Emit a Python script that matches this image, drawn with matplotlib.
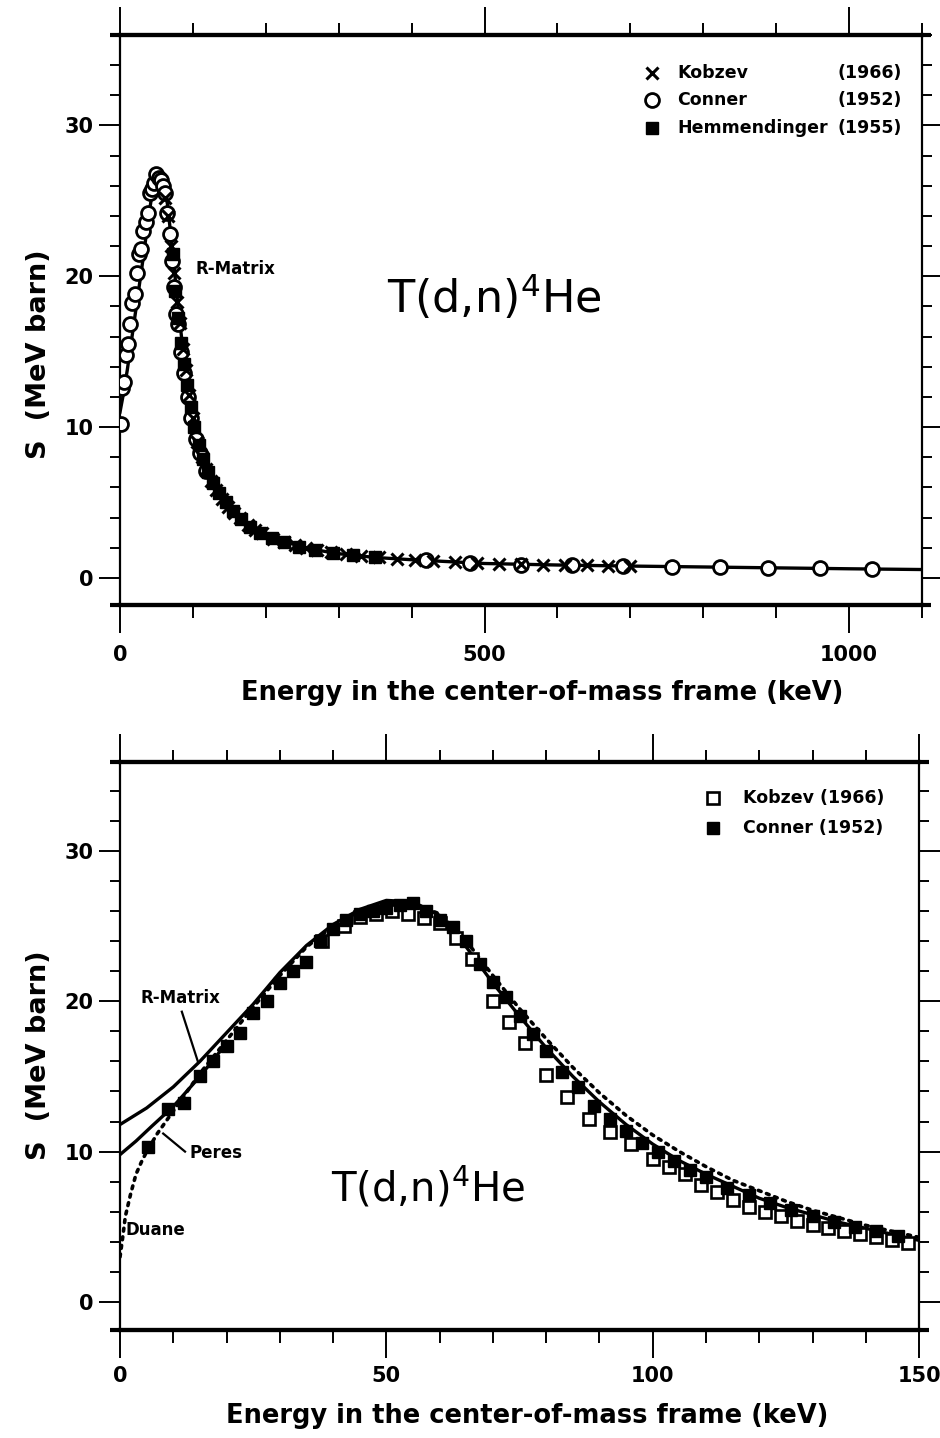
import matplotlib
matplotlib.use("Agg")
import matplotlib.pyplot as plt
from matplotlib.ticker import MultipleLocator

# ---- top panel data (0 - 1100 keV) ----
top_curve_E = [0, 5, 10, 15, 20, 25, 30, 35, 40, 45, 50, 55, 60, 65, 70, 75, 80, 85, 90, 95,
               100, 105, 110, 120, 130, 140, 150, 175, 200, 250, 300, 350, 400, 500, 600,
               700, 800, 900, 1000, 1100]
top_curve_S = [11.0, 12.3, 13.8, 15.5, 17.2, 18.9, 20.6, 22.4, 24.2, 25.8, 26.7, 26.7, 26.0,
               24.8, 22.6, 20.2, 17.8, 15.7, 13.7, 11.9, 10.4, 9.3, 8.4, 7.0, 6.0, 5.3, 4.7,
               3.6, 2.9, 2.0, 1.6, 1.35, 1.2, 0.95, 0.85, 0.78, 0.72, 0.66, 0.6, 0.55]

top_conner_E = [1, 3, 5, 8, 11, 14, 17, 20, 23, 26, 29, 32, 35, 38, 41, 44, 47, 50, 53, 56,
                59, 62, 65, 68, 71, 74, 77, 80, 84, 88, 93, 98, 104, 110, 118,
                420, 480, 550, 620, 690, 757, 823, 889, 960, 1031]
top_conner_S = [10.2, 12.6, 13.0, 14.8, 15.5, 16.8, 18.2, 18.8, 20.2, 21.5, 21.8, 23.0, 23.6,
                24.2, 25.5, 25.8, 26.2, 26.8, 26.5, 26.4, 26.0, 25.5, 24.2, 22.8, 21.0, 19.3,
                17.5, 16.8, 15.0, 13.6, 12.0, 10.6, 9.2, 8.3, 7.1,
                1.15, 1.0, 0.88, 0.82, 0.78, 0.72, 0.7, 0.66, 0.62, 0.6]

top_kobzev_E = [62, 66, 70, 74, 78, 82, 86, 90, 95, 100, 106, 112, 118, 125, 132, 140, 148,
                156, 165, 175, 185, 195, 210, 225, 240, 255, 270, 290, 310, 330, 355, 380,
                405, 430, 460, 490, 520, 550, 580, 610, 640, 670, 700]
top_kobzev_S = [25.2, 24.0, 22.0, 20.2, 18.3, 16.9, 15.2, 13.8, 12.1, 10.6, 9.0, 8.0, 7.2,
                6.4, 5.8, 5.2, 4.7, 4.3, 4.0, 3.5, 3.2, 2.95, 2.6, 2.35, 2.15, 1.95, 1.85,
                1.7, 1.55, 1.45, 1.35, 1.25, 1.18, 1.1, 1.02, 0.98, 0.93, 0.9, 0.87, 0.84,
                0.82, 0.8, 0.78]

top_hemm_E = [72, 76, 80, 84, 88, 92, 97, 102, 108, 114, 121, 128, 136, 145, 155, 166, 178,
              192, 208, 225, 245, 268, 292, 320, 350]
top_hemm_S = [21.5, 19.0, 17.2, 15.6, 14.2, 12.8, 11.3, 10.0, 8.8, 7.9, 7.0, 6.3, 5.6, 5.0,
              4.4, 3.9, 3.4, 3.0, 2.65, 2.35, 2.05, 1.85, 1.65, 1.5, 1.35]

# ---- bottom panel data (0 - 150 keV) ----
bot_rmatrix_E = [0, 5, 10, 15, 20, 25, 30, 35, 40, 45, 50, 55, 60, 65, 70, 75, 80, 85, 90,
                 95, 100, 105, 110, 115, 120, 125, 130, 135, 140, 145, 150]
bot_rmatrix_S = [11.8, 12.9, 14.3, 16.0, 17.9, 19.8, 21.9, 23.7, 25.1, 26.1, 26.7, 26.6,
                 25.7, 23.6, 21.2, 19.0, 16.9, 15.0, 13.3, 11.8, 10.5, 9.4, 8.5, 7.7, 6.9,
                 6.3, 5.8, 5.3, 4.9, 4.5, 4.1]

bot_peres_E = [0, 3, 6, 10, 15, 20]
bot_peres_S = [9.8, 10.7, 11.7, 13.0, 15.0, 17.2]

bot_duane_E = [0, 0.5, 1, 2, 3, 4, 5, 7, 10, 15, 20, 25, 30, 35, 40, 45, 50, 55, 60, 65,
               70, 75, 80, 85, 90, 95, 100, 105, 110, 115, 120, 125, 130, 135, 140, 145, 150]
bot_duane_S = [3.0, 4.3, 5.7, 7.2, 8.5, 9.3, 10.0, 11.2, 12.7, 15.2, 17.4, 19.6, 21.7, 23.6,
               25.0, 26.0, 26.5, 26.5, 25.8, 24.0, 21.7, 19.5, 17.5, 15.6, 13.9, 12.4, 11.1,
               10.0, 9.0, 8.1, 7.4, 6.7, 6.1, 5.6, 5.1, 4.7, 4.3]

bot_conner_E = [5.3, 9, 12, 15, 17.5, 20, 22.5, 25, 27.5, 30, 32.5, 35, 37.5, 40, 42.5, 45,
                47.5, 50, 52.5, 55, 57.5, 60, 62.5, 65, 67.5, 70, 72.5, 75, 77.5, 80, 83, 86,
                89, 92, 95, 98, 101, 104, 107, 110, 114, 118, 122, 126, 130, 134, 138, 142,
                146]
bot_conner_S = [10.3, 12.8, 13.2, 15.0, 16.0, 17.0, 17.9, 19.2, 20.0, 21.2, 22.0, 22.6, 24.0,
                24.8, 25.4, 25.8, 26.0, 26.2, 26.4, 26.5, 26.0, 25.4, 24.9, 24.0, 22.5, 21.3,
                20.3, 19.0, 17.8, 16.7, 15.3, 14.3, 13.0, 12.2, 11.4, 10.6, 10.0, 9.4, 8.8,
                8.3, 7.6, 7.1, 6.6, 6.1, 5.7, 5.3, 5.0, 4.7, 4.4]

bot_kobzev_E = [38, 42, 45, 48, 51, 54, 57, 60, 63, 66, 70, 73, 76, 80, 84, 88, 92, 96, 100,
                103, 106, 109, 112, 115, 118, 121, 124, 127, 130, 133, 136, 139, 142, 145, 148]
bot_kobzev_S = [24.0, 25.0, 25.6, 25.8, 26.0, 25.8, 25.5, 25.2, 24.2, 22.8, 20.0, 18.6, 17.2,
                15.1, 13.6, 12.2, 11.3, 10.5, 9.5, 9.0, 8.5, 7.8, 7.3, 6.8, 6.3, 6.0, 5.7,
                5.4, 5.1, 4.9, 4.7, 4.5, 4.3, 4.1, 3.9]

top_xticks = [0, 500, 1000]
bot_xticks = [0, 50, 100, 150]
yticks = [0, 10, 20, 30]
xlabel = "Energy in the center-of-mass frame (keV)"
ylabel = "S  (MeV barn)"
reaction = r"T(d,n)$^4$He"

plt.rcParams["font.family"] = ["DejaVu Sans"]

fig = plt.figure(figsize=(9.4, 14.38), dpi=100)
ax1 = fig.add_axes([0.1277, 0.5793, 0.853, 0.3964])
ax2 = fig.add_axes([0.1277, 0.0751, 0.850, 0.395])


def frame(ax, xpad):
    for s in ["top", "bottom"]:
        ax.spines[s].set_linewidth(3.0)
    for s in ["left", "right"]:
        ax.spines[s].set_linewidth(1.6)
    for yy in [0, 1]:
        ax.plot([-0.012, 1.012], [yy, yy], transform=ax.transAxes, color="black",
                lw=3.0, clip_on=False, solid_capstyle="butt")
    ax.yaxis.set_minor_locator(MultipleLocator(2))
    ax.set_yticks(yticks)
    ax.tick_params(axis="both", which="both", direction="out", top=True, right=True,
                   width=1.4, labelsize=15)
    ax.tick_params(axis="x", which="major", length=20, pad=xpad)
    ax.tick_params(axis="x", which="minor", length=9)
    ax.tick_params(axis="y", which="major", length=15, pad=4)
    ax.tick_params(axis="y", which="minor", length=7)
    for lab in ax.get_xticklabels() + ax.get_yticklabels():
        lab.set_fontweight("bold")


# ---- top panel ----
ax1.plot(top_curve_E, top_curve_S, color="black", lw=2.4, zorder=3)
ax1.plot(top_conner_E, top_conner_S, "o", mfc="white", mec="black", ms=10, mew=2.0, zorder=4)
ax1.plot(top_kobzev_E, top_kobzev_S, "x", color="black", ms=9, mew=2.2, zorder=5)
ax1.plot(top_hemm_E, top_hemm_S, "s", color="black", ms=8, zorder=5)
ax1.set_xlim(0, 1100)
ax1.set_ylim(-1.8, 36.0)
ax1.set_xticks(top_xticks)
ax1.xaxis.set_minor_locator(MultipleLocator(100))
frame(ax1, 9)

ax1.text(103, 20.5, "R-Matrix", fontsize=12, fontweight="bold", va="center", ha="left")
ax1.text(0.467, 0.54, reaction, transform=ax1.transAxes, fontsize=32,
         ha="center", va="center")

legend_top = [("x", "Kobzev", "(1966)"), ("o", "Conner", "(1952)"),
              ("s", "Hemmendinger", "(1955)")]
for i, (m, name, yr) in enumerate(legend_top):
    yy = [0.933, 0.886, 0.837][i]
    if m == "o":
        ax1.plot([0.663], [yy], m, mfc="white", mec="black", ms=10, mew=2.0,
                 transform=ax1.transAxes, clip_on=False)
    elif m == "x":
        ax1.plot([0.663], [yy], m, color="black", ms=9, mew=2.2,
                 transform=ax1.transAxes, clip_on=False)
    else:
        ax1.plot([0.663], [yy], m, color="black", ms=8, transform=ax1.transAxes,
                 clip_on=False)
    ax1.text(0.695, yy, name, transform=ax1.transAxes, fontsize=12.5, fontweight="bold",
             va="center", ha="left")
    ax1.text(0.975, yy, yr, transform=ax1.transAxes, fontsize=12.5, fontweight="bold",
             va="center", ha="right")

ax1.set_xlabel(xlabel, fontsize=18.5, fontweight="bold")
ax1.xaxis.set_label_coords(0.526, -0.132)
ax1.set_ylabel(ylabel, fontsize=19.5, fontweight="bold")
ax1.yaxis.set_label_coords(-0.085, 0.44)

# ---- bottom panel ----
ax2.plot(bot_rmatrix_E, bot_rmatrix_S, color="black", lw=2.4, zorder=3)
ax2.plot(bot_peres_E, bot_peres_S, color="black", lw=2.4, zorder=3)
ax2.plot(bot_duane_E, bot_duane_S, color="black", lw=2.6, ls=(0, (0.8, 1.6)),
         dash_capstyle="round", zorder=3)
ax2.plot(bot_kobzev_E, bot_kobzev_S, "s", mfc="white", mec="black", ms=8, mew=1.9, zorder=4)
ax2.plot(bot_conner_E, bot_conner_S, "s", color="black", ms=8, zorder=5)
ax2.set_xlim(0, 150)
ax2.set_ylim(-1.86, 35.9)
ax2.set_xticks(bot_xticks)
ax2.xaxis.set_minor_locator(MultipleLocator(10))
frame(ax2, 6)

ax2.text(3.8, 20.2, "R-Matrix", fontsize=12, fontweight="bold", va="center", ha="left")
ax2.plot([11.6, 14.6], [19.3, 16.0], color="black", lw=1.6)
ax2.text(13.1, 9.9, "Peres", fontsize=12, fontweight="bold", va="center", ha="left")
ax2.plot([12.2, 8.1], [10.0, 11.2], color="black", lw=1.6)
ax2.text(1.1, 4.8, "Duane", fontsize=12, fontweight="bold", va="center", ha="left")
ax2.text(0.385, 0.25, reaction, transform=ax2.transAxes, fontsize=29,
         ha="center", va="center")

legend_bot = [("open", "Kobzev (1966)"), ("filled", "Conner (1952)")]
for i, (kind, name) in enumerate(legend_bot):
    yy = [0.937, 0.884][i]
    if kind == "open":
        ax2.plot([0.742], [yy], "s", mfc="white", mec="black", ms=8, mew=1.9,
                 transform=ax2.transAxes, clip_on=False)
    else:
        ax2.plot([0.742], [yy], "s", color="black", ms=8, transform=ax2.transAxes,
                 clip_on=False)
    ax2.text(0.78, yy, name, transform=ax2.transAxes, fontsize=12.5, fontweight="bold",
             va="center", ha="left")

ax2.set_xlabel(xlabel, fontsize=18.5, fontweight="bold")
ax2.xaxis.set_label_coords(0.51, -0.128)
ax2.set_ylabel(ylabel, fontsize=19.5, fontweight="bold")
ax2.yaxis.set_label_coords(-0.085, 0.484)

fig.savefig("out.png", dpi=100)
